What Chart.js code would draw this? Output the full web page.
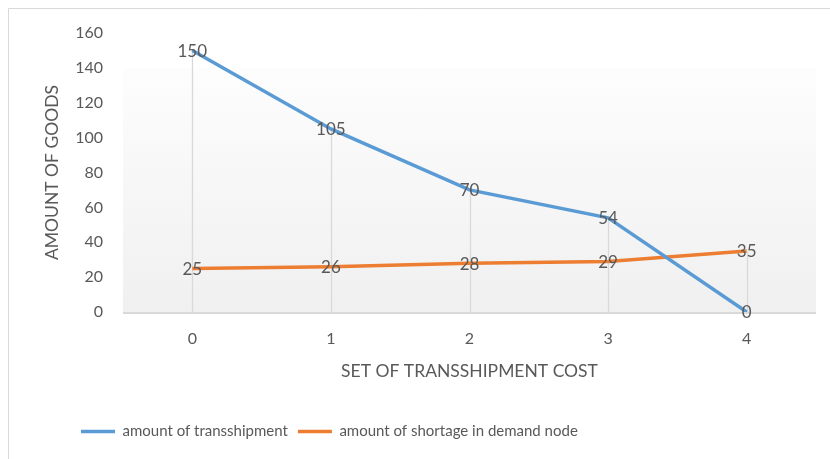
<!DOCTYPE html>
<html>
<head>
<meta charset="utf-8">
<script src="https://cdn.jsdelivr.net/npm/chart.js@4/dist/chart.umd.min.js"></script>
<style>
  html, body { margin: 0; padding: 0; background: #fff; }
  #wrap { width: 830px; height: 459px; position: relative; }
</style>
</head>
<body>
<div id="wrap"><canvas id="c" width="830" height="459"></canvas></div>
<script>
const categories = ['0', '1', '2', '3', '4'];
const transshipment = [150, 105, 70, 54, 0];
const shortage = [25, 26, 28, 29, 35];
const seriesNames = ['amount of transshipment', 'amount of shortage in demand node'];
const yTicks = [0, 20, 40, 60, 80, 100, 120, 140, 160];

const FONT = 'Lato, "Open Sans", sans-serif';
const GREY = '#595959';

const framePlugin = {
  id: 'frame',
  beforeDraw(chart) {
    const ctx = chart.ctx;
    const a = chart.chartArea;
    ctx.save();
    ctx.fillStyle = '#ffffff';
    ctx.fillRect(0, 0, chart.width, chart.height);
    ctx.strokeStyle = '#d9d9d9';
    ctx.lineWidth = 1;
    ctx.beginPath();
    ctx.moveTo(8.5, chart.height + 5);
    ctx.lineTo(8.5, 8.5);
    ctx.lineTo(chart.width + 5, 8.5);
    ctx.stroke();
    const top = a.top + 35;
    const g = ctx.createLinearGradient(0, top, 0, a.bottom);
    g.addColorStop(0, '#fdfdfd');
    g.addColorStop(1, '#f0f0f0');
    ctx.fillStyle = g;
    ctx.fillRect(a.left, top, a.right - a.left, a.bottom - top);
    ctx.restore();
  },
  beforeDatasetsDraw(chart) {
    const ctx = chart.ctx;
    const a = chart.chartArea;
    const m0 = chart.getDatasetMeta(0), m1 = chart.getDatasetMeta(1);
    ctx.save();
    ctx.strokeStyle = '#d9d9d9';
    ctx.lineWidth = 1.3;
    for (let i = 0; i < categories.length; i++) {
      const x = Math.round(m0.data[i].x) + 0.5;
      const yTop = Math.min(m0.data[i].y, m1.data[i].y);
      ctx.beginPath();
      ctx.moveTo(x, yTop);
      ctx.lineTo(x, a.bottom);
      ctx.stroke();
    }
    ctx.lineWidth = 2;
    ctx.beginPath();
    ctx.moveTo(a.left, a.bottom + 1);
    ctx.lineTo(a.right, a.bottom + 1);
    ctx.stroke();
    ctx.restore();
  },
  afterDatasetsDraw(chart) {
    const ctx = chart.ctx;
    ctx.save();
    ctx.fillStyle = GREY;
    ctx.font = '17px ' + FONT;
    ctx.textAlign = 'center';
    ctx.textBaseline = 'middle';
    chart.data.datasets.forEach((ds, di) => {
      const meta = chart.getDatasetMeta(di);
      meta.data.forEach((pt, i) => {
        ctx.fillText(String(ds.data[i]), pt.x, pt.y + 1);
      });
    });
    ctx.restore();
  },
  afterLayout(chart) {
    if (chart.legend) {
      chart.legend.left = 71;
      chart.legend.top = 414;
    }
  }
};

new Chart(document.getElementById('c'), {
  type: 'line',
  data: {
    labels: categories,
    datasets: [
      { label: seriesNames[0], data: transshipment, borderColor: '#5B9BD5', backgroundColor: '#5B9BD5', borderWidth: 3.5, pointRadius: 0, tension: 0 },
      { label: seriesNames[1], data: shortage, borderColor: '#ED7D31', backgroundColor: '#ED7D31', borderWidth: 3.5, pointRadius: 0, tension: 0 }
    ]
  },
  options: {
    responsive: false,
    animation: false,
    devicePixelRatio: 1,
    layout: { padding: { left: 42, right: 14, top: 33, bottom: 10 } },
    plugins: {
      legend: {
        position: 'bottom',
        align: 'start',
        labels: {
          usePointStyle: true,
          pointStyle: 'line',
          pointStyleWidth: 34,
          boxHeight: 16,
          padding: 10,
          color: GREY,
          font: { family: FONT, size: 15 }
        }
      },
      tooltip: { enabled: false }
    },
    scales: {
      x: {
        type: 'category',
        offset: true,
        grid: { display: false, drawTicks: false },
        border: { display: false },
        ticks: { color: GREY, font: { family: FONT, size: 16 }, padding: 17, maxRotation: 0 },
        title: { display: true, text: 'SET OF TRANSSHIPMENT COST', color: GREY, font: { family: FONT, size: 17.5 }, padding: { top: 4, bottom: 32 } },
        afterFit(scale) { scale.height = 102; }
      },
      y: {
        min: 0,
        max: 160,
        afterBuildTicks(scale) { scale.ticks = yTicks.map(v => ({ value: v })); },
        grid: { display: false, drawTicks: false },
        border: { display: false },
        ticks: { color: GREY, font: { family: FONT, size: 16 }, padding: 20 },
        title: { display: true, text: 'AMOUNT OF GOODS', color: GREY, font: { family: FONT, size: 17.5 }, padding: 0 },
        afterFit(scale) { scale.width = 81; }
      }
    }
  },
  plugins: [framePlugin]
});
</script>
</body>
</html>
